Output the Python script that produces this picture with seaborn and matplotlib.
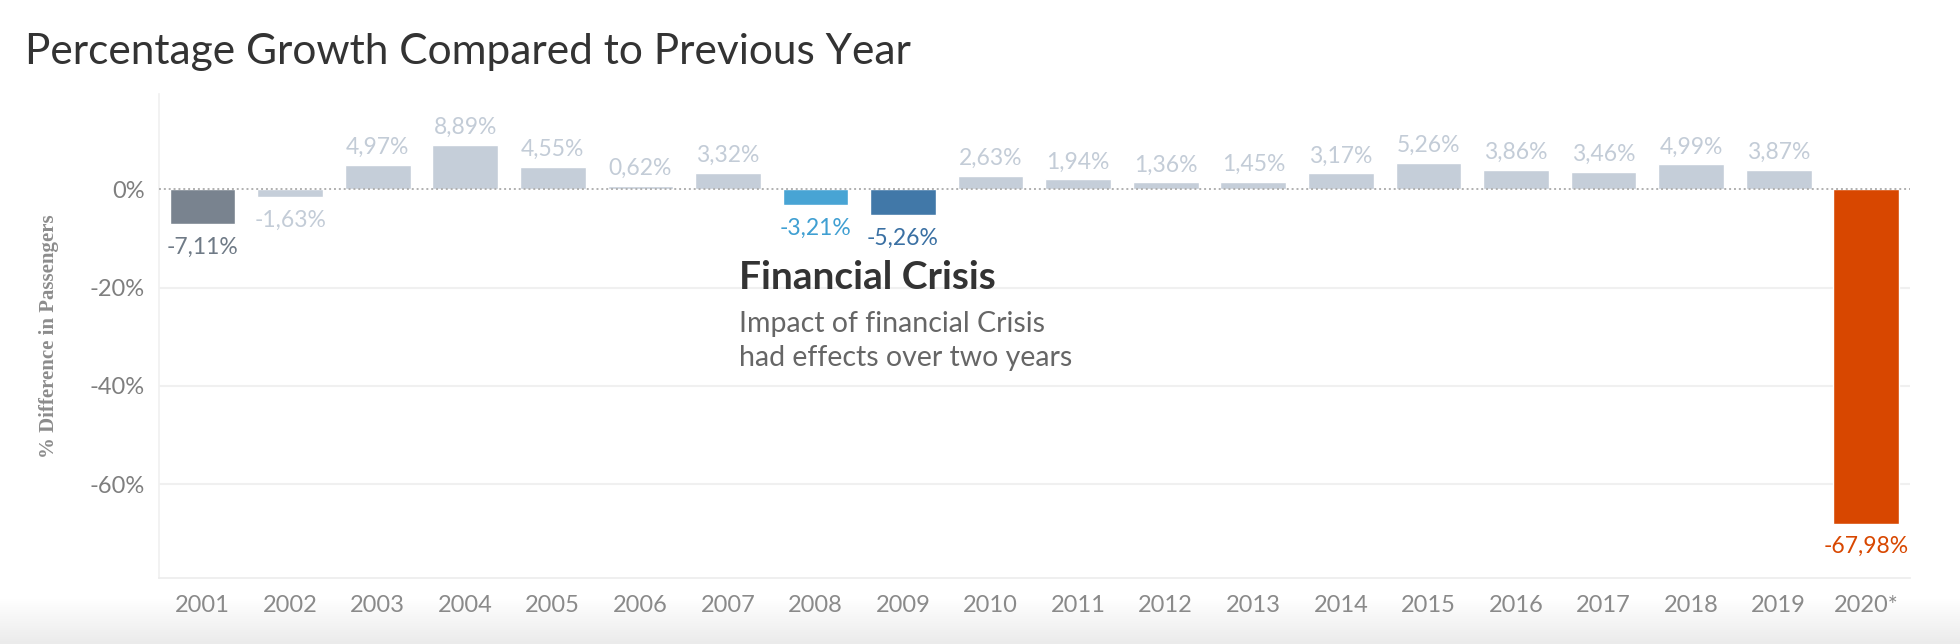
import numpy as np
import pandas as pd
import matplotlib
matplotlib.use("Agg")
import matplotlib.pyplot as plt
import seaborn as sns

# ------------------------------------------------------------
# Data
# ------------------------------------------------------------
years = ["2001", "2002", "2003", "2004", "2005", "2006", "2007", "2008", "2009", "2010",
         "2011", "2012", "2013", "2014", "2015", "2016", "2017", "2018", "2019", "2020*"]
growth = [-7.11, -1.63, 4.97, 8.89, 4.55, 0.62, 3.32, -3.21, -5.26, 2.63,
          1.94, 1.36, 1.45, 3.17, 5.26, 3.86, 3.46, 4.99, 3.87, -67.98]

light = "#c5ced9"
special = {"2001": "#79838f", "2008": "#48a4d4", "2009": "#4178a8", "2020*": "#d84700"}
label_special = {"2001": "#6f7a86", "2008": "#3f9fd2", "2009": "#3a70a3", "2020*": "#d84700"}
bar_colors = [special.get(y, light) for y in years]
text_colors = [label_special.get(y, "#c3ccd7") for y in years]

df = pd.DataFrame({"Year": years, "Growth": growth})

# ------------------------------------------------------------
# Style
# ------------------------------------------------------------
sns.set_style("white")
plt.rcParams["font.family"] = ["Lato", "DejaVu Sans"]

fig = plt.figure(figsize=(19.6, 6.44), dpi=100)
ax = fig.add_axes([0.081, 0.1025, 0.8935, 0.7515])

sns.barplot(data=df, x="Year", y="Growth", hue="Year", palette=bar_colors,
            legend=False, width=0.75, saturation=1, ax=ax)

ax.set_ylim(-79, 19.3)
ax.set_xlim(-0.5, len(years) - 0.5)

# grid + zero line
for v in [-20, -40, -60]:
    ax.axhline(v, color="#f0f0f0", lw=1.5, zorder=0)
ax.axhline(0, color="#b0b0b0", lw=1.4, ls=(0, (1, 1.5)), zorder=3)

# value labels
for i, (v, c) in enumerate(zip(growth, text_colors)):
    txt = f"{v:.2f}%".replace(".", ",")
    if v >= 0:
        ax.annotate(txt, (i, v), xytext=(0, 5), textcoords="offset points",
                    ha="center", va="bottom", fontsize=16.5, color=c)
    else:
        ax.annotate(txt, (i, v), xytext=(0, -9), textcoords="offset points",
                    ha="center", va="top", fontsize=16.5, color=c)

# axes styling
ax.set_yticks([0, -20, -40, -60])
ax.set_yticklabels(["0%", "-20%", "-40%", "-60%"])
ax.tick_params(axis="y", length=0, labelsize=17, labelcolor="#7f7f7f", pad=10)
ax.tick_params(axis="x", which="major", length=0, labelsize=17, labelcolor="#8a8a8a", pad=12)
ax.set_xticks(np.arange(-0.5, len(years), 1), minor=True)
ax.tick_params(axis="x", which="minor", length=9, width=1.2, color="#ececec")

for s in ["top", "right"]:
    ax.spines[s].set_visible(False)
ax.spines["left"].set_color("#f0f0f0")
ax.spines["bottom"].set_color("#ececec")
ax.spines["left"].set_linewidth(1.2)
ax.spines["bottom"].set_linewidth(1.2)

ax.set_xlabel("")
ax.set_ylabel("% Difference in Passengers", family=["Liberation Serif", "DejaVu Serif"],
              fontweight="bold", fontsize=15, color="#8c8c8c", labelpad=22)

# annotation
ax.text(0.3315, 0.621, "Financial Crisis", transform=ax.transAxes,
        fontsize=28, fontweight="bold", color="#333333", ha="left", va="center")
ax.text(0.3315, 0.49, "Impact of financial Crisis\nhad effects over two years",
        transform=ax.transAxes, fontsize=20.5, color="#666666", ha="left", va="center",
        linespacing=1.4)

# title
fig.text(0.0128, 0.92, "Percentage Growth Compared to Previous Year",
         fontsize=30.5, color="#333333", ha="left", va="center")

# faint bottom shadow of the screenshot
shade = fig.add_axes([0, 0, 1, 0.07], zorder=-1)
grad = np.linspace(0, 1, 50).reshape(-1, 1)
shade.imshow(grad, aspect="auto", cmap=matplotlib.colors.LinearSegmentedColormap.from_list(
    "s", ["#ebebeb", "#ffffff"]), extent=[0, 1, 0, 1], origin="lower")
shade.axis("off")

fig.savefig("out.png", dpi=100)
